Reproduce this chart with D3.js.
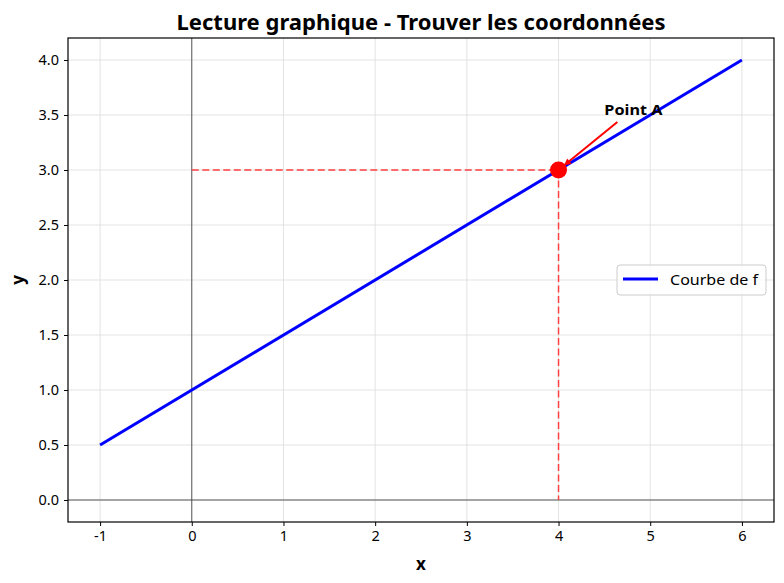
<!DOCTYPE html>
<html>
<head>
<meta charset="utf-8">
<script src="https://cdn.jsdelivr.net/npm/d3@7"></script>
<style>
  body { margin:0; background:#fff; }
  svg { display:block; font-family: "Noto Sans", "Open Sans", sans-serif; }
</style>
</head>
<body>
<div id="chart"></div>
<script>
// curve f(x) = 0.5x + 1, sampled at the ends
const curveX = [-1, 6];
const curveY = [0.5, 4];
const pointA = [4, 3];
const labelPos = [4.5, 3.5];
const xTicks = [-1, 0, 1, 2, 3, 4, 5, 6];
const yTicks = [0, 0.5, 1, 1.5, 2, 2.5, 3, 3.5, 4];

const W = 784, H = 583;
const m = { left: 68, right: 10, top: 38, bottom: 61 };

const svg = d3.select("#chart").append("svg")
  .attr("width", W).attr("height", H);

const x = d3.scaleLinear().domain([-1.35, 6.35]).range([m.left, W - m.right]);
const y = d3.scaleLinear().domain([-0.2, 4.2]).range([H - m.bottom, m.top]);

// grid
const grid = svg.append("g").attr("stroke", "#dcdcdc").attr("stroke-width", 0.8);
grid.selectAll("line.gx").data(xTicks).join("line")
  .attr("x1", d => x(d)).attr("x2", d => x(d))
  .attr("y1", y.range()[1]).attr("y2", y.range()[0]);
grid.selectAll("line.gy").data(yTicks).join("line")
  .attr("y1", d => y(d)).attr("y2", d => y(d))
  .attr("x1", x.range()[0]).attr("x2", x.range()[1]);

// axes lines through origin
svg.append("line")
  .attr("x1", x.range()[0]).attr("x2", x.range()[1])
  .attr("y1", y(0)).attr("y2", y(0))
  .attr("stroke", "#333").attr("stroke-width", 0.8);
svg.append("line")
  .attr("x1", x(0)).attr("x2", x(0))
  .attr("y1", y.range()[0]).attr("y2", y.range()[1])
  .attr("stroke", "#333").attr("stroke-width", 0.8);

// dashed reading lines
const dash = svg.append("g").attr("stroke", "#ff4040").attr("stroke-width", 1.5)
  .attr("stroke-dasharray", "7,3.5");
dash.append("line")
  .attr("x1", x(0)).attr("x2", x(pointA[0]))
  .attr("y1", y(pointA[1])).attr("y2", y(pointA[1]));
dash.append("line")
  .attr("x1", x(pointA[0])).attr("x2", x(pointA[0]))
  .attr("y1", y(pointA[1])).attr("y2", y(0));

// curve
const line = d3.line().x(d => x(d[0])).y(d => y(d[1]));
svg.append("path")
  .datum(curveX.map((v, i) => [v, curveY[i]]))
  .attr("d", line)
  .attr("fill", "none").attr("stroke", "#0000ff").attr("stroke-width", 3);

// point A
svg.append("circle")
  .attr("cx", x(pointA[0])).attr("cy", y(pointA[1])).attr("r", 8.5)
  .attr("fill", "#ff0000");

// arrow annotation
svg.append("defs").append("marker")
  .attr("id", "ah").attr("viewBox", "0 0 10 10")
  .attr("refX", 10).attr("refY", 5)
  .attr("markerWidth", 9).attr("markerHeight", 7)
  .attr("markerUnits", "userSpaceOnUse")
  .attr("orient", "auto")
  .append("path").attr("d", "M0,0 L10,5 L0,10 Z").attr("fill", "#ff0000");

{
  const x0 = x(labelPos[0]) + 13, y0 = y(labelPos[1]) + 7;
  const x1 = x(pointA[0]), y1 = y(pointA[1]);
  const dx = x1 - x0, dy = y1 - y0, len = Math.hypot(dx, dy);
  const shrink = 7;
  svg.append("line")
    .attr("x1", x0).attr("y1", y0)
    .attr("x2", x1 - dx / len * shrink).attr("y2", y1 - dy / len * shrink)
    .attr("stroke", "#ff0000").attr("stroke-width", 2)
    .attr("marker-end", "url(#ah)");
}
svg.append("text")
  .attr("x", x(labelPos[0])).attr("y", y(labelPos[1]))
  .attr("font-size", 15).attr("font-weight", "bold").attr("fill", "#000")
  .attr("textLength", 58).attr("lengthAdjust", "spacingAndGlyphs")
  .text("Point A");

// frame
svg.append("rect")
  .attr("x", m.left).attr("y", m.top)
  .attr("width", W - m.left - m.right).attr("height", H - m.top - m.bottom)
  .attr("fill", "none").attr("stroke", "#000").attr("stroke-width", 1.2);

// axes
const fmtX = d => d < 0 ? "-" + Math.abs(d) : String(d);
svg.append("g")
  .attr("transform", `translate(0,${H - m.bottom})`)
  .call(d3.axisBottom(x).tickValues(xTicks).tickFormat(fmtX).tickSizeOuter(0).tickSize(4).tickPadding(5))
  .call(g => g.select(".domain").remove())
  .call(g => g.selectAll("text").attr("font-size", 14.5).attr("fill", "#000").attr("font-family", "Noto Sans"));
svg.append("g")
  .attr("transform", `translate(${m.left},0)`)
  .call(d3.axisLeft(y).tickValues(yTicks).tickFormat(d3.format(".1f")).tickSizeOuter(0).tickSize(4).tickPadding(5))
  .call(g => g.select(".domain").remove())
  .call(g => g.selectAll("text").attr("font-size", 14.5).attr("fill", "#000").attr("font-family", "Noto Sans"));

// labels
svg.append("text")
  .attr("x", (m.left + W - m.right) / 2).attr("y", 570)
  .attr("text-anchor", "middle").attr("font-size", 17).attr("font-weight", "bold")
  .text("x");
svg.append("text")
  .attr("transform", `translate(24,${(m.top + H - m.bottom) / 2}) rotate(-90)`)
  .attr("text-anchor", "middle").attr("font-size", 17).attr("font-weight", "bold")
  .text("y");
svg.append("text")
  .attr("x", (m.left + W - m.right) / 2).attr("y", 30)
  .attr("text-anchor", "middle").attr("font-size", 21).attr("font-weight", "bold")
  .attr("textLength", 489).attr("lengthAdjust", "spacingAndGlyphs")
  .text("Lecture graphique - Trouver les coordonnées");

// legend
const lg = svg.append("g").attr("transform", "translate(617,265)");
lg.append("rect").attr("width", 149).attr("height", 30).attr("rx", 3)
  .attr("fill", "#fff").attr("fill-opacity", 0.8).attr("stroke", "#cccccc");
lg.append("line").attr("x1", 6).attr("x2", 41).attr("y1", 14).attr("y2", 14)
  .attr("stroke", "#0000ff").attr("stroke-width", 3);
lg.append("text").attr("x", 53).attr("y", 20).attr("font-size", 14)
  .attr("textLength", 88).attr("lengthAdjust", "spacingAndGlyphs")
  .text("Courbe de f");
</script>
</body>
</html>
